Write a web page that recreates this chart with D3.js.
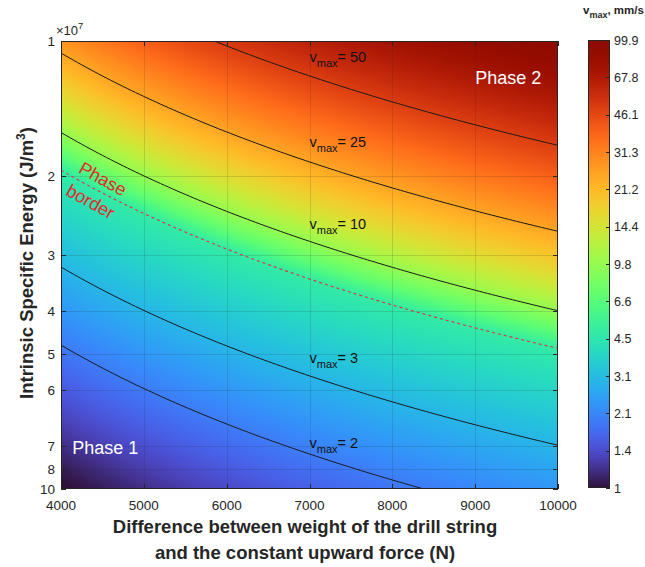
<!DOCTYPE html>
<html><head><meta charset="utf-8">
<script src="https://cdn.jsdelivr.net/npm/d3@7"></script>
<style>
body{margin:0;background:#fff}
svg{display:block}
text{font-family:"Liberation Sans",Arial,Helvetica,sans-serif}
</style>
</head><body>
<svg id="chart" width="645" height="567"></svg>
<script>
// Axis domains
const forceDomain = [4000, 10000];          // N
const energyDomain = [1, 10];               // ×10^7 J/m^3
const xTickValues = [4000, 5000, 6000, 7000, 8000, 9000, 10000];
const yTickValues = [1, 2, 3, 4, 5, 6, 8, 9, 10];
const yTickLabels = ['1', '2', '3', '4', '5', '6', '7', '8', '10'];

// v_max (mm/s) as a function of force / energy ratio (N per 10^7 J/m^3)
const ratioKnots = [400, 838, 1252, 2060, 2500, 3760, 5850, 10000];
const vmaxKnots  = [0.96, 2, 3, 4.95, 10, 25, 50, 99.9];
const phaseBorderRatio = 2060;

// Iso-velocity lines and their labels
const contourLevels = [50, 25, 10, 3, 2];
const labelForce  = [7000, 7000, 7000, 7000, 7000];
const labelEnergy = [1.114, 1.724, 2.628, 5.23, 8.10];

// Region labels
const phaseNames  = ['Phase 1', 'Phase 2'];
const phaseForce  = [4135, 9000];
const phaseEnergy = [8.36, 1.247];

// Colour bar
const cbRange = [1, 99.9];
const cbTickLabels = ['1','1.4','2.1','3.1','4.5','6.6','9.8','14.4','21.2','31.3','46.1','67.8','99.9'];

const svg = d3.select('#chart');
const ink = '#262626';
const plot = {left: 61, right: 558, top: 41, bottom: 489};

const x = d3.scaleLinear().domain(forceDomain).range([plot.left, plot.right]);
const y = d3.scaleLog().domain(energyDomain).range([plot.top, plot.bottom]);
const vOfRatio = d3.scaleLinear().domain(ratioKnots).range(vmaxKnots).clamp(true);

// turbo colormap with the darker violet start
const turboStart = d3.rgb(48, 18, 59);
function turbo(t) {
  if (t < 0.06) return d3.interpolateRgb(turboStart, d3.interpolateTurbo(0.06))(t / 0.06);
  return d3.interpolateTurbo(t);
}
const color = d3.scaleSequentialLog(turbo).domain(cbRange).clamp(true);

// ---- heat map ----
const W = plot.right - plot.left, H = plot.bottom - plot.top;
const cvs = document.createElement('canvas');
cvs.width = W; cvs.height = H;
const ctx = cvs.getContext('2d');
const img = ctx.createImageData(W, H);
for (let j = 0; j < H; j++) {
  const E = y.invert(plot.top + j + 0.5);
  for (let i = 0; i < W; i++) {
    const F = x.invert(plot.left + i + 0.5);
    const c = d3.rgb(color(vOfRatio(F / E)));
    const k = (j * W + i) * 4;
    img.data[k] = c.r; img.data[k+1] = c.g; img.data[k+2] = c.b; img.data[k+3] = 255;
  }
}
ctx.putImageData(img, 0, 0);
svg.append('image')
  .attr('x', plot.left).attr('y', plot.top)
  .attr('width', W).attr('height', H)
  .attr('preserveAspectRatio', 'none')
  .attr('href', cvs.toDataURL());

svg.append('clipPath').attr('id', 'clip')
  .append('rect').attr('x', plot.left).attr('y', plot.top).attr('width', W).attr('height', H);

// ---- grid ----
const grid = svg.append('g').attr('stroke', ink).attr('stroke-opacity', 0.15).attr('stroke-width', 1);
xTickValues.slice(1, -1).forEach(v => grid.append('line')
  .attr('x1', Math.round(x(v)) + 0.5).attr('x2', Math.round(x(v)) + 0.5)
  .attr('y1', plot.top).attr('y2', plot.bottom));
yTickValues.slice(1, -1).forEach(v => grid.append('line')
  .attr('y1', Math.round(y(v)) + 0.5).attr('y2', Math.round(y(v)) + 0.5)
  .attr('x1', plot.left).attr('x2', plot.right));

// ---- iso-velocity curves: E = F / ratio ----
function curve(ratio) {
  const f0 = Math.max(forceDomain[0], ratio * energyDomain[0]);
  const f1 = Math.min(forceDomain[1], ratio * energyDomain[1]);
  const pts = d3.range(0, 121).map(k => f0 + (f1 - f0) * k / 120);
  return pts.map(F => [F, F / ratio]);
}
const line = d3.line().x(d => x(d[0])).y(d => y(d[1]));
const lines = svg.append('g').attr('clip-path', 'url(#clip)');
contourLevels.forEach(lv => {
  lines.append('path').attr('d', line(curve(vOfRatio.invert(lv))))
    .attr('fill', 'none').attr('stroke', '#1a1a1a').attr('stroke-width', 1);
});
lines.append('path').attr('d', line(curve(phaseBorderRatio)))
  .attr('fill', 'none').attr('stroke', '#e8303a').attr('stroke-width', 1.1)
  .attr('stroke-dasharray', '3,3');

// ---- contour labels ----
contourLevels.forEach((lv, i) => {
  const t = svg.append('text').attr('x', x(labelForce[i])).attr('y', y(labelEnergy[i]))
    .attr('font-size', 14.5).attr('fill', '#111');
  t.append('tspan').text('v');
  t.append('tspan').attr('font-size', 11).attr('dy', 5).text('max');
  t.append('tspan').attr('dy', -5).text('= ' + lv);
});

// ---- phase labels ----
phaseNames.forEach((n, i) => svg.append('text')
  .attr('x', x(phaseForce[i])).attr('y', y(phaseEnergy[i]))
  .attr('font-size', 18).attr('fill', '#fff').text(n));

const pb = svg.append('g').attr('fill', '#e8262a').attr('font-size', 18);
pb.append('text').attr('transform', `translate(${x(4200)},${y(1.96)}) rotate(29)`).text('Phase');
pb.append('text').attr('transform', `translate(${x(4045)},${y(2.2)}) rotate(29)`).text('border');

// ---- box and ticks ----
svg.append('rect').attr('x', plot.left + 0.5).attr('y', plot.top + 0.5)
  .attr('width', W - 1).attr('height', H - 1)
  .attr('fill', 'none').attr('stroke', ink).attr('stroke-width', 1);

const ticks = svg.append('g').attr('stroke', ink).attr('stroke-width', 1);
const tl = 5;
xTickValues.forEach(v => {
  const px = Math.round(x(v)) + 0.5;
  ticks.append('line').attr('x1', px).attr('x2', px).attr('y1', plot.bottom).attr('y2', plot.bottom - tl);
  ticks.append('line').attr('x1', px).attr('x2', px).attr('y1', plot.top).attr('y2', plot.top + tl);
});
yTickValues.forEach(v => {
  const py = Math.round(y(v)) + 0.5;
  ticks.append('line').attr('y1', py).attr('y2', py).attr('x1', plot.left).attr('x2', plot.left + tl);
  ticks.append('line').attr('y1', py).attr('y2', py).attr('x1', plot.right).attr('x2', plot.right - tl);
});

// tick labels
const tickG = svg.append('g').attr('fill', ink).attr('font-size', 13.5);
xTickValues.forEach(v => tickG.append('text')
  .attr('x', x(v)).attr('y', plot.bottom + 21).attr('text-anchor', 'middle').text(v));
yTickValues.forEach((v, i) => tickG.append('text')
  .attr('x', plot.left - 6).attr('y', y(v) + 5).attr('text-anchor', 'end').text(yTickLabels[i]));

// exponent
const ex = svg.append('text').attr('x', 56).attr('y', 35).attr('font-size', 13).attr('fill', ink);
ex.append('tspan').text('\u00d710');
ex.append('tspan').attr('font-size', 9.5).attr('dy', -6).text('7');

// axis titles
const xl = svg.append('g').attr('font-size', 18.5).attr('font-weight', 'bold').attr('fill', ink)
  .attr('text-anchor', 'middle');
xl.append('text').attr('x', 305).attr('y', 533).text('Difference between weight of the drill string');
xl.append('text').attr('x', 305).attr('y', 559).text('and the constant upward force (N)');

const yl = svg.append('text').attr('transform', 'translate(33,263) rotate(-90)')
  .attr('font-size', 18.5).attr('font-weight', 'bold').attr('fill', ink).attr('text-anchor', 'middle');
yl.append('tspan').text('Intrinsic Specific Energy (J/m');
yl.append('tspan').attr('font-size', 12).attr('dy', -8).text('3');
yl.append('tspan').attr('dy', 8).text(')');

// ---- colour bar ----
const cb = {left: 588, right: 610, top: 40, bottom: 488};
const cbScale = d3.scaleLog().domain(cbRange).range([cb.bottom, cb.top]);
const cbH = cb.bottom - cb.top;
const cc = document.createElement('canvas');
cc.width = 1; cc.height = cbH;
const cctx = cc.getContext('2d');
for (let j = 0; j < cbH; j++) {
  cctx.fillStyle = color(cbScale.invert(cb.top + j + 0.5));
  cctx.fillRect(0, j, 1, 1);
}
svg.append('image').attr('x', cb.left).attr('y', cb.top)
  .attr('width', cb.right - cb.left).attr('height', cbH)
  .attr('preserveAspectRatio', 'none').attr('href', cc.toDataURL());
svg.append('rect').attr('x', cb.left + 0.5).attr('y', cb.top + 0.5)
  .attr('width', cb.right - cb.left - 1).attr('height', cbH - 1)
  .attr('fill', 'none').attr('stroke', ink).attr('stroke-width', 1);

const nT = cbTickLabels.length - 1;
cbTickLabels.forEach((lab, i) => {
  const val = cbRange[0] * Math.pow(cbRange[1] / cbRange[0], i / nT);
  const py = Math.round(cbScale(val)) + 0.5;
  svg.append('line').attr('x1', cb.right).attr('x2', cb.right - 4)
    .attr('y1', py).attr('y2', py).attr('stroke', ink).attr('stroke-width', 1);
  svg.append('text').attr('x', cb.right + 4).attr('y', cbScale(val) + 4.5)
    .attr('font-size', 12.5).attr('fill', ink).text(lab);
});

const cbt = svg.append('text').attr('x', 583).attr('y', 14).attr('font-size', 11.5)
  .attr('font-weight', 'bold').attr('fill', ink);
cbt.append('tspan').text('v');
cbt.append('tspan').attr('font-size', 9).attr('dy', 4).text('max');
cbt.append('tspan').attr('dy', -4).text(', mm/s');
</script>
</body></html>
